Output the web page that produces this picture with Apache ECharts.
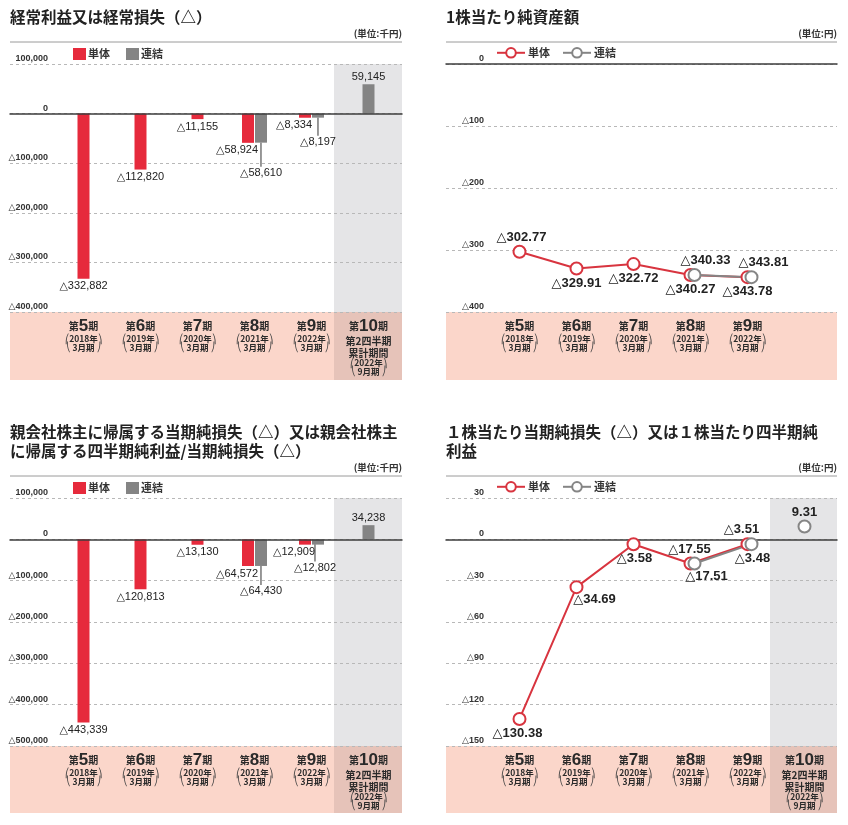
<!DOCTYPE html>
<html><head><meta charset="utf-8">
<script src="https://cdn.jsdelivr.net/npm/echarts/dist/echarts.min.js"></script>
<style>html,body{margin:0;padding:0;background:#fff}#c{width:848px;height:825px}</style>
</head><body><div id="c"></div>
<script>
// ---------- data ----------
const periods = ['第5期','第6期','第7期','第8期','第9期','第10期'];
const periodYears = ['2018年','2019年','2020年','2021年','2022年','2022年'];
const periodMonths = ['3月期','3月期','3月期','3月期','3月期','9月期'];
const periodNotes = ['','','','','','第2四半期\n累計期間'];

const ordinaryTantai   = [-332882, -112820, -11155, -58924, -8334, null];
const ordinaryRenketsu = [null, null, null, -58610, -8197, 59145];
const netTantai        = [-443339, -120813, -13130, -64572, -12909, null];
const netRenketsu      = [null, null, null, -64430, -12802, 34238];
const bpsTantai        = [-302.77, -329.91, -322.72, -340.27, -343.78, null];
const bpsRenketsu      = [null, null, null, -340.33, -343.81, null];
const epsTantai        = [-130.38, -34.69, -3.58, -17.55, -3.51, null];
const epsRenketsu      = [null, null, null, -17.51, -3.48, 9.31];

const ordinaryTicks = [100000, 0, -100000, -200000, -300000, -400000];
const netTicks      = [100000, 0, -100000, -200000, -300000, -400000, -500000];
const bpsTicks      = [0, -100, -200, -300, -400];
const epsTicks      = [30, 0, -30, -60, -90, -120, -150];

const titles = {
  tl: '経常利益又は経常損失（△）',
  tr: '1株当たり純資産額',
  bl: '親会社株主に帰属する当期純損失（△）又は親会社株主\nに帰属する四半期純利益/当期純損失（△）',
  br: '１株当たり当期純損失（△）又は１株当たり四半期純\n利益'
};
const units = { tl: '(単位:千円)', tr: '(単位:円)', bl: '(単位:千円)', br: '(単位:円)' };

// ---------- styles / layout ----------
const FONT_JP = '"Noto Sans CJK JP", sans-serif';
const FONT_NUM = '"Liberation Sans", "DejaVu Sans", sans-serif';
const RED = '#e62a3c', GRAY = '#848484', RED_LINE = '#d8343f', GRAY_LINE = '#858585';
const PINK = '#fbd6ca', PINK_DARK = '#e6c3b9', SHADE = '#e5e5e7', TXT = '#2a2a2a';

const P = {
  tl: {x0:10,  x1:402, top:64,  bottom:312, band:380, qx:334, titleTop:8,   unitY:29,  sepY:42,  legendTop:48},
  tr: {x0:446, x1:837, top:64,  bottom:312, band:380, qx:770, titleTop:8,   unitY:29,  sepY:42,  legendTop:47},
  bl: {x0:10,  x1:402, top:498, bottom:746, band:813, qx:334, titleTop:423, unitY:463, sepY:476, legendTop:482},
  br: {x0:446, x1:837, top:498, bottom:746, band:813, qx:770, titleTop:423, unitY:463, sepY:476, legendTop:481}
};

function fmtInt(v){ if (v == null) return ''; const s = Math.abs(v).toLocaleString('en-US'); return v < 0 ? '△' + s : s; }
function fmtDec(v){ if (v == null) return ''; const s = Math.abs(v).toFixed(2); return v < 0 ? '△' + s : s; }
function fmtAxis(v){ const s = Math.abs(v).toLocaleString('en-US'); return v < 0 ? '△' + s : s; }

const option = {
  animation: false,
  textStyle: { fontFamily: FONT_JP },
  title: [], legend: [], grid: [], xAxis: [], yAxis: [], series: [], graphic: []
};

const catRich = {
  a: {fontSize:10, fontWeight:'bold', color:TXT, fontFamily:FONT_JP, lineHeight:17},
  n: {fontSize:17, fontWeight:'bold', color:TXT, fontFamily:FONT_NUM, lineHeight:17},
  q: {fontSize:10, fontWeight:'bold', color:TXT, fontFamily:FONT_JP, lineHeight:12},
  s: {fontSize:8.5, fontWeight:'bold', color:TXT, fontFamily:FONT_JP, lineHeight:8.5},
  p: {fontSize:9, color:'#444', fontFamily:'"DejaVu Sans"', lineHeight:8.5}
};
function catFormatter(hasData){
  return function(value, idx){
    if (!hasData[idx]) return '';
    const num = value.replace(/[第期]/g, '');
    let s = '{a|第}{n|' + num + '}{a|期}';
    if (periodNotes[idx]) s += '\n' + periodNotes[idx].split('\n').map(t => '{q|' + t + '}').join('\n');
    s += '\n{p|⎛}{s|' + periodYears[idx] + '}{p|⎞}\n{p|⎝}{s| ' + periodMonths[idx] + ' }{p|⎠}';
    return s;
  };
}

function yRange(ticks){ return {min: Math.min(...ticks), max: Math.max(...ticks), interval: ticks[0] - ticks[1]}; }

function addDecor(key, hasQuarter){
  const p = P[key];
  option.title.push({text: titles[key], left: p.x0, top: p.titleTop, padding:0,
    textStyle:{fontSize:15.5, fontWeight:'bold', color:'#222', fontFamily:FONT_JP, lineHeight:19}});
  option.title.push({text: units[key], right: 848 - p.x1, top: p.unitY, padding:0,
    textStyle:{fontSize:9.5, fontWeight:'bold', color:'#333', fontFamily:FONT_JP}});
  option.graphic.push({type:'line', shape:{x1:p.x0, y1:p.sepY, x2:p.x1, y2:p.sepY}, style:{stroke:'#9a9a9a', lineWidth:1}, z:-5});
  option.graphic.push({type:'rect', shape:{x:p.x0, y:p.bottom, width:p.x1 - p.x0, height:p.band - p.bottom}, style:{fill:PINK}, z:-10});
  if (hasQuarter) {
    option.graphic.push({type:'rect', shape:{x:p.qx, y:p.bottom, width:p.x1 - p.qx, height:p.band - p.bottom}, style:{fill:PINK_DARK}, z:-9});
    option.graphic.push({type:'rect', shape:{x:p.qx, y:p.top, width:p.x1 - p.qx, height:p.bottom - p.top}, style:{fill:SHADE}, z:-9});
  }
}

function addFrame(key, ticks){
  const p = P[key];
  const gi = option.grid.length;
  option.grid.push({left:p.x0, top:p.top, width:p.x1 - p.x0, height:p.bottom - p.top, outerBoundsMode:'none', containLabel:false});
  option.xAxis.push({type:'category', gridIndex:gi, data:periods, axisLabel:{show:false}, axisTick:{show:false},
    axisLine:{show:true, onZero:true, lineStyle:{color:'#3c3c3c', width:1.5}}, splitLine:{show:false}, z:3});
  option.yAxis.push(Object.assign({type:'value', gridIndex:gi, axisLine:{show:false}, axisTick:{show:false},
    axisLabel:{inside:true, align:'right', verticalAlign:'bottom', margin:38, formatter:fmtAxis, fontSize:9,
      fontWeight:'bold', color:'#333', fontFamily:FONT_NUM, padding:[0,0,1,0], showMinLabel:true, showMaxLabel:true},
    splitLine:{show:true, lineStyle:{color:'#b8b8b8', type:[3,3], width:1}}}, yRange(ticks)));
}

function addDataGrid(key, ticks, shift, hasData, withLabels){
  const p = P[key];
  const gi = option.grid.length;
  option.grid.push({left:p.x0 + 45 + shift, top:p.top, width:342, height:p.bottom - p.top, outerBoundsMode:'none', containLabel:false});
  const xi = option.xAxis.length;
  option.xAxis.push({type:'category', gridIndex:gi, data:periods, axisLine:{show:false}, axisTick:{show:false}, splitLine:{show:false},
    axisLabel: withLabels ? {show:true, interval:0, margin:6, formatter:catFormatter(hasData), rich:catRich, hideOverlap:false} : {show:false}});
  const yi = option.yAxis.length;
  option.yAxis.push(Object.assign({type:'value', gridIndex:gi, show:false, splitLine:{show:false}}, yRange(ticks)));
  return {gi, xi, yi};
}

function addBarPanel(key, tantai, renketsu, ticks, cfg){
  const hasData = periods.map((_, i) => tantai[i] != null || renketsu[i] != null);
  addDecor(key, hasData[5]);
  addFrame(key, ticks);
  const main = addDataGrid(key, ticks, 0, hasData, true);
  const solo = addDataGrid(key, ticks, 0, hasData, false);
  const pair = periods.map((_, i) => tantai[i] != null && renketsu[i] != null);
  const baseLabel = {show:true, position:'outside', distance:2, fontSize:11, color:'#222', fontFamily:FONT_NUM,
    formatter: q => fmtInt(q.value)};
  option.series.push({type:'bar', name:'bar:単体', xAxisIndex:main.xi, yAxisIndex:main.yi, barWidth:12, barGap:'8%',
    itemStyle:{color:RED}, label:Object.assign({}, baseLabel, {offset:cfg.redPairOffset}),
    data: tantai.map((v, i) => pair[i] ? v : null)});
  option.series.push({type:'bar', name:'bar:連結', xAxisIndex:main.xi, yAxisIndex:main.yi, barWidth:12, barGap:'8%',
    itemStyle:{color:GRAY},
    data: renketsu.map((v, i) => pair[i] ? {value:v, label:{show:true, position:'outside', distance:0,
      offset:[cfg.grayDx[i] || 0, 0], formatter:'{l| }\n{v|' + fmtInt(v) + '}',
      rich:{l:{width:1, height:cfg.leader[i], lineHeight:cfg.leader[i], backgroundColor:'#333', fontSize:1},
            v:{fontSize:11, color:'#222', fontFamily:FONT_NUM, lineHeight:13}}}} : null)});
  const stackId = 'solo-' + key;
  option.series.push({type:'bar', name:'bar:単体', xAxisIndex:solo.xi, yAxisIndex:solo.yi, stack:stackId, barWidth:12,
    itemStyle:{color:RED}, label:baseLabel, data: tantai.map((v, i) => !pair[i] ? v : null)});
  option.series.push({type:'bar', name:'bar:連結', xAxisIndex:solo.xi, yAxisIndex:solo.yi, stack:stackId, barWidth:12,
    itemStyle:{color:GRAY}, label:baseLabel, data: renketsu.map((v, i) => !pair[i] ? v : null)});
  option.legend.push({data:['bar:単体','bar:連結'], left:cfg.legendLeft, top:P[key].legendTop, padding:0, itemWidth:13, itemHeight:12,
    itemGap:16, icon:'rect', formatter: n => n.split(':')[1],
    textStyle:{fontSize:11, fontWeight:'bold', color:'#333', fontFamily:FONT_JP, padding:[0,0,0,-3]}});
}

function addLinePanel(key, tantai, renketsu, ticks, cfg){
  const hasData = periods.map((_, i) => tantai[i] != null || renketsu[i] != null);
  addDecor(key, hasData[5]);
  addFrame(key, ticks);
  const main = addDataGrid(key, ticks, 0, hasData, true);
  const shifted = addDataGrid(key, ticks, 4, hasData, false);
  const both = periods.map((_, i) => tantai[i] != null && renketsu[i] != null);
  const mk = (v, lc) => v == null ? null : {value:v, label:{position:lc[0], offset:lc[1] || [0, 0]}};
  const common = (color, lineColor) => ({type:'line', symbol:'emptyCircle', symbolSize:12, connectNulls:false,
    lineStyle:{color:lineColor, width:2}, itemStyle:{color:color, borderColor:color, borderWidth:2},
    label:{show:true, distance:1, fontSize:13, fontWeight:'bold', color:'#222', fontFamily:FONT_NUM,
      formatter: q => fmtDec(q.value)}});
  option.series.push(Object.assign(common(RED_LINE, RED_LINE), {name:'line:単体', xAxisIndex:main.xi, yAxisIndex:main.yi,
    data: tantai.map((v, i) => mk(v, cfg.tantaiLabels[i]))}));
  option.series.push(Object.assign(common(GRAY_LINE, GRAY_LINE), {name:'line:連結', xAxisIndex:shifted.xi, yAxisIndex:shifted.yi,
    data: renketsu.map((v, i) => both[i] ? mk(v, cfg.renLabels[i]) : null)}));
  option.series.push(Object.assign(common(GRAY_LINE, GRAY_LINE), {name:'line:連結', xAxisIndex:main.xi, yAxisIndex:main.yi,
    data: renketsu.map((v, i) => (!both[i] && v != null) ? mk(v, cfg.renLabels[i]) : null)}));
  option.legend.push({data:['line:単体','line:連結'], left:cfg.legendLeft, top:P[key].legendTop, padding:0, itemWidth:28, itemHeight:12,
    itemGap:12, formatter: n => n.split(':')[1],
    textStyle:{fontSize:11, fontWeight:'bold', color:'#333', fontFamily:FONT_JP, padding:[0,0,0,-2]}});
}

addBarPanel('tl', ordinaryTantai, ordinaryRenketsu, ordinaryTicks,
  {redPairOffset:[-11, 0], grayDx:{}, leader:{3:24, 4:18}, legendLeft:73});
addLinePanel('tr', bpsTantai, bpsRenketsu, bpsTicks,
  {tantaiLabels:[['top',[2,0]],['bottom'],['bottom'],['bottom'],['bottom'],null],
   renLabels:[null,null,null,['top',[11,0]],['top',[12,0]],null], legendLeft:496});
addBarPanel('bl', netTantai, netRenketsu, netTicks,
  {redPairOffset:[-11, 0], grayDx:{4:-3}, leader:{3:19, 4:17}, legendLeft:73});
addLinePanel('br', epsTantai, epsRenketsu, epsTicks,
  {tantaiLabels:[['bottom',[-2,0]],['bottom',[18,-2]],['bottom',[1,0]],['top',[-1,0]],['top',[-6,0]],null],
   renLabels:[null,null,null,['bottom',[12,-2]],['bottom',[1,0]],['top',[0,0]]], legendLeft:496});

const chart = echarts.init(document.getElementById('c'), null, {renderer:'canvas'});
chart.setOption(option);
</script>
</body></html>
